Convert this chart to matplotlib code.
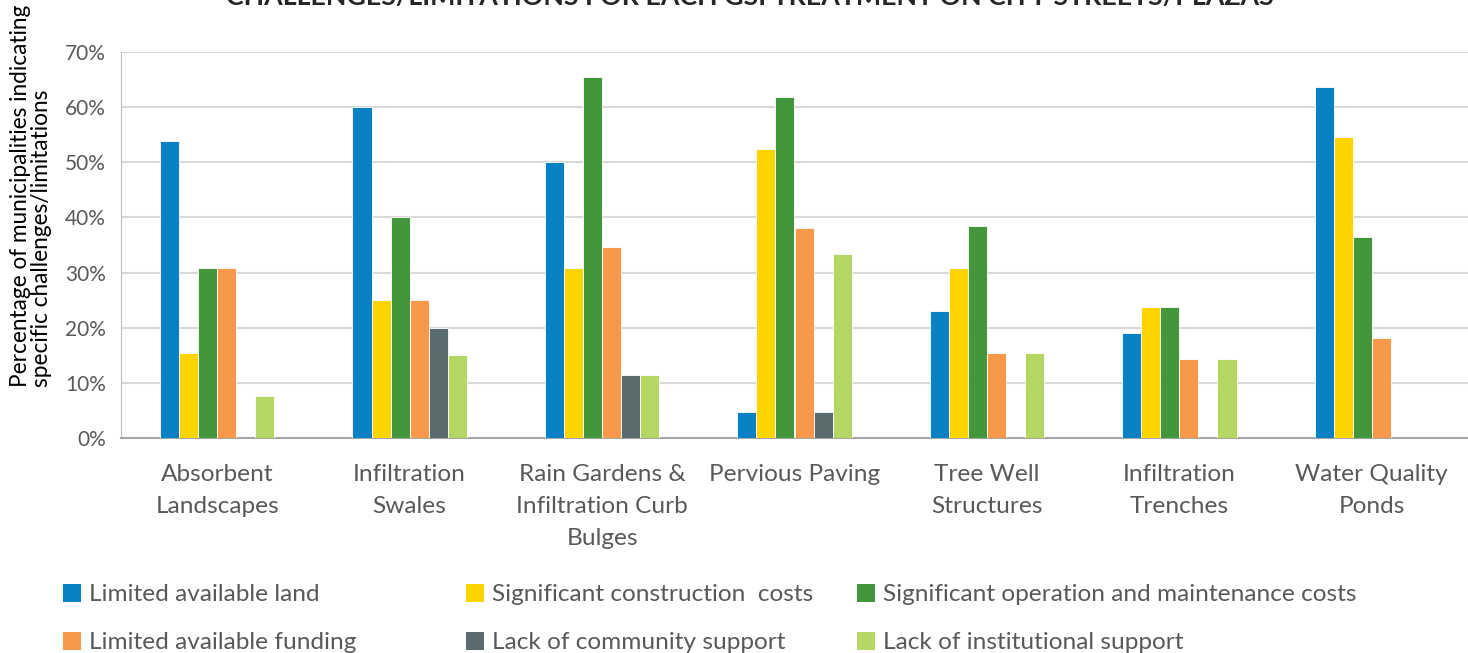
import matplotlib
matplotlib.use("Agg")
import matplotlib.pyplot as plt
import numpy as np
from matplotlib.patches import Patch
from matplotlib.ticker import FuncFormatter

categories = ["Absorbent\nLandscapes", "Infiltration\nSwales",
              "Rain Gardens &\nInfiltration Curb\nBulges", "Pervious Paving",
              "Tree Well\nStructures", "Infiltration\nTrenches", "Water Quality\nPonds"]

series_names = ["Limited available land", "Significant construction  costs",
                "Significant operation and maintenance costs", "Limited available funding",
                "Lack of community support", "Lack of institutional support"]

limited_land = [53.8, 60.0, 50.0, 4.8, 23.1, 19.0, 63.6]
construction_costs = [15.4, 25.0, 30.8, 52.4, 30.8, 23.8, 54.5]
om_costs = [30.8, 40.0, 65.4, 61.9, 38.5, 23.8, 36.4]
limited_funding = [30.8, 25.0, 34.6, 38.1, 15.4, 14.3, 18.2]
community_support = [0.0, 20.0, 11.5, 4.8, 0.0, 0.0, 0.0]
institutional_support = [7.7, 15.0, 11.5, 33.3, 15.4, 14.3, 0.0]

series_values = [limited_land, construction_costs, om_costs, limited_funding,
                 community_support, institutional_support]
colors = ["#0780C4", "#FDD300", "#43963B", "#F7984A", "#5A6B6F", "#B4D764"]

font = "Lato"
text_color = "#595959"
plt.rcParams["font.family"] = [font, "DejaVu Sans"]

W, H = 1468, 653
fig = plt.figure(figsize=(W / 100, H / 100), dpi=100)
ax = fig.add_axes([121 / W, 1 - 438 / H, (1468 - 121) / W, (438 - 52) / H])

x = np.arange(len(categories))
bw = 0.099
for i, (vals, c) in enumerate(zip(series_values, colors)):
    ax.bar(x + (i - 2.5) * bw, vals, width=bw, color=c, edgecolor="white",
           linewidth=0.6, zorder=3)

ax.set_xlim(-0.5, len(categories) - 0.5)
ax.set_ylim(0, 70)
ax.set_yticks(np.arange(0, 71, 10))
ax.yaxis.set_major_formatter(FuncFormatter(lambda v, p: f"{int(v)}%"))
ax.grid(axis="y", color="#D9D9D9", linewidth=1.5, zorder=0)
ax.set_axisbelow(True)
for s in ["top", "right"]:
    ax.spines[s].set_visible(False)
ax.spines["left"].set_color("#BFBFBF")
ax.spines["bottom"].set_color("#A6A6A6")
ax.spines["bottom"].set_linewidth(1.5)
ax.tick_params(axis="y", length=0, labelsize=15, labelcolor=text_color, pad=11)
ax.tick_params(axis="x", length=0, labelsize=17.6, labelcolor=text_color, pad=19)
ax.set_xticks(x)
ax.set_xticklabels(categories, linespacing=1.65)

fig.text(10 / W, 1 - 387 / H,
         "Percentage of municipalities indicating\nspecific challenges/limitations",
         rotation=90, ha="left", va="top", multialignment="left",
         rotation_mode="anchor", fontsize=16.3, color="black", linespacing=1.0)

fig.text(750 / W, 1 - 5 / H,
         "CHALLENGES/LIMITATIONS FOR EACH GSI TREATMENT ON CITY STREETS/PLAZAS",
         ha="center", va="baseline", fontsize=19.3, fontweight="bold", color="#262626")

handles = [Patch(facecolor=c, edgecolor="none") for c in colors]
col_x = [63, 466, 857]
for col in range(3):
    idx = [col, col + 3]
    fig.legend([handles[j] for j in idx], [series_names[j] for j in idx],
               loc="upper left", bbox_to_anchor=(col_x[col] / W, 1 - 584 / H),
               frameon=False, fontsize=17.6, labelcolor=text_color,
               handlelength=0.75, handleheight=0.75, handletextpad=0.3,
               labelspacing=1.08, borderaxespad=0, borderpad=0)

fig.savefig("out.png", dpi=100)
